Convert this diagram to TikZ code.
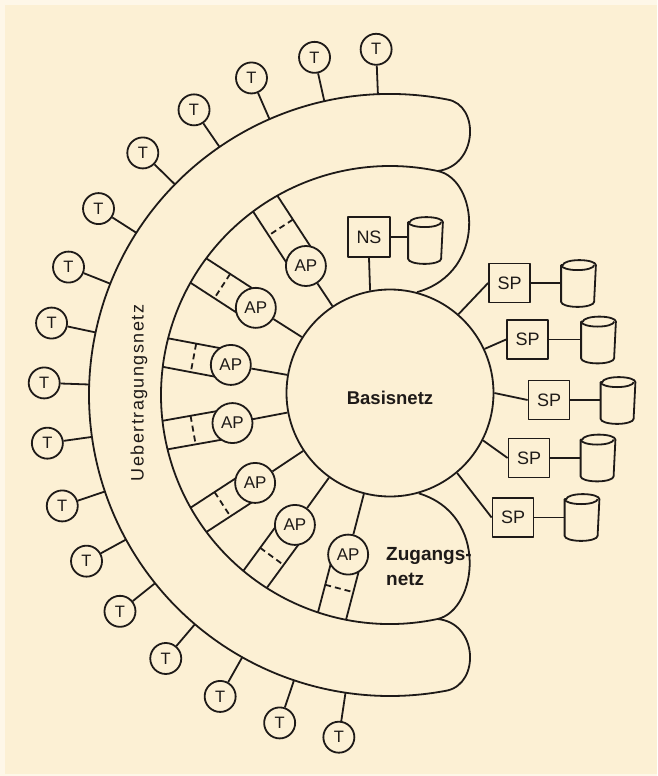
\documentclass[tikz,border=0pt]{standalone}
\usepackage{fontspec}
\setmainfont{Liberation Sans}
\usetikzlibrary{calc}
\definecolor{bg}{RGB}{252,240,212}
\definecolor{bgl}{RGB}{254,247,232}
\definecolor{ink}{RGB}{30,26,24}
\newcommand\cylshape[1]{%
  \draw[fill=bg] ([yshift=-5pt]#1.north west) -- ([yshift=5pt]#1.south west)
     arc[start angle=180,end angle=360,x radius=16.5pt,y radius=5pt]
     -- ([yshift=-5pt]#1.north east)
     arc[start angle=0,end angle=180,x radius=16.5pt,y radius=5pt] -- cycle;
  \draw ([yshift=-5pt]#1.north west) arc[start angle=180,end angle=360,x radius=16.5pt,y radius=5pt];
}
\begin{document}
\begin{tikzpicture}[x=1pt,y=-1pt,line width=1.8pt,color=ink,line join=round,
  tnode/.style={circle,draw,fill=bg,minimum size=31pt,inner sep=0pt,font=\fontsize{16.5}{16.5}\selectfont},
  apnode/.style={circle,draw,fill=bg,minimum size=40pt,inner sep=0pt,font=\fontsize{17}{17}\selectfont},
  spbox/.style={rectangle,draw,fill=bg,minimum width=41pt,minimum height=39pt,inner sep=0pt,font=\fontsize{18}{18}\selectfont},
  dbnode/.style={rectangle,minimum width=33pt,minimum height=45pt,inner sep=0pt},
  dashline/.style={dash pattern=on 6pt off 4pt}]
\useasboundingbox (0,0) rectangle (657,776);
\fill[bgl] (0,0) rectangle (657,776);
\fill[bg] (5,5) rectangle (657,774);
\coordinate (C) at (390,395);
% Uebertragungsnetz band
\coordinate (bo1) at ($(C)+(-79:301)$);
\coordinate (bo2) at ($(C)+(79:301)$);
\coordinate (bi1) at ($(C)+(-78:229)$);
\coordinate (bi2) at ($(C)+(78:229)$);
\draw (bo1) arc[start angle=-79,end angle=-281,radius=301]
  .. controls (480,683) and (478,623) .. (bi2)
  arc[start angle=78,end angle=282,radius=229]
  .. controls (478,166) and (480,105) .. (bo1) -- cycle;
% Basisnetz
\node[circle,draw,minimum size=207pt,inner sep=0pt] (basis) at (390,393) {};
\node[font=\bfseries\fontsize{18.5}{18.5}\selectfont] (basislabel) at (390,398) {Basisnetz};
% Zugangsnetz blobs
\draw (bi1) .. controls (478,179) and (488,272) .. (basis.75);
\draw (basis.-74) .. controls (490,515) and (477,610) .. (bi2);
\node[anchor=west,align=left,font=\bfseries\fontsize{19}{25}\selectfont] (zlabel) at (382,567) {Zugangs-\\netz};
\node[rotate=90,font=\fontsize{18}{18}\selectfont\addfontfeatures{LetterSpace=8}] (ulabel) at (139,393) {Uebertragungsnetz};
% terminals
\foreach \a [count=\i] in {98.5,108.6,119.4,130.4,141.3,151.3,161.3,172,182,192,201.7,212.6,224.4,235.5,246.4,257.4,267.7}{
  \node[tnode] (t\i) at ($(C)+(\a:346)$) {T};
  \coordinate (ts\i) at ($(C)+(\a:301)$);
  \draw (t\i) -- (ts\i);
}
% access points
\foreach \a/\r [count=\i] in {236.9/154,213/160,190.7/162,169.9/160,146.9/161,126.2/161,104.7/165}{
  \pgfmathsetmacro\rs{\r+13.8}
  \pgfmathsetmacro\pa{\a+90}
  \node[apnode] (ap\i) at ($(C)+(\a:\r)$) {AP};
  \coordinate (apa\i) at ($(C)+(\a:\rs)+(\pa:14.5)$);
  \coordinate (apb\i) at ($(C)+(\a:\rs)+(\pa:-14.5)$);
  \coordinate (arca\i) at ($(C)+(\a:228.5)+(\pa:14.5)$);
  \coordinate (arcb\i) at ($(C)+(\a:228.5)+(\pa:-14.5)$);
  \coordinate (dsa\i) at ($(C)+(\a:200)+(\pa:14.5)$);
  \coordinate (dsb\i) at ($(C)+(\a:200)+(\pa:-14.5)$);
  \draw (apa\i) -- (arca\i);
  \draw (apb\i) -- (arcb\i);
  \draw[dashline] (dsa\i) -- (dsb\i);
  \draw (ap\i) -- (basis);
}
% name server
\node[spbox,minimum width=42pt,minimum height=40pt] (ns) at (369,237) {NS};
\node[dbnode] (cy0) at (425.5,240.5) {};
\cylshape{cy0}
\draw (ns.east) -- (ns.east -| cy0.west);
\draw (ns.south) -- (basis.101.7);
% service points
\node[spbox] (sp1) at (509.5,283) {SP};
\node[spbox] (sp2) at (527.5,339.5) {SP};
\node[spbox] (sp3) at (549,400) {SP};
\node[spbox] (sp4) at (529,458) {SP};
\node[spbox] (sp5) at (513,517.5) {SP};
\node[dbnode] (cy1) at (578.5,283.5) {};
\node[dbnode] (cy2) at (598.5,340) {};
\node[dbnode] (cy3) at (618,400.5) {};
\node[dbnode] (cy4) at (598,458) {};
\node[dbnode] (cy5) at (582,517.5) {};
\foreach \k in {1,...,5}{\cylshape{cy\k}}
\foreach \k in {1,...,5}{\draw (sp\k.east) -- (sp\k.east -| cy\k.west);}
\draw (basis.49.5) -- (sp1.west);
\draw (basis.25.3) -- (sp2.west);
\draw (basis.0) -- (sp3.west);
\draw (basis.-27.8) -- (sp4.west);
\draw (basis.-50.7) -- (sp5.west);
\end{tikzpicture}
\end{document}
